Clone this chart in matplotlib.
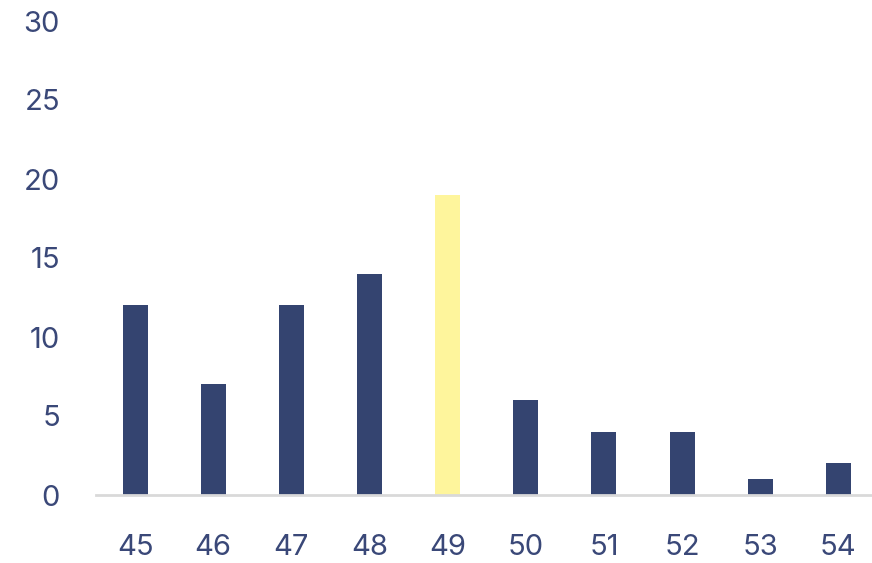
import matplotlib.pyplot as plt

sizes = ['45', '46', '47', '48', '49', '50', '51', '52', '53', '54']
counts = [12, 7, 12, 14, 19, 6, 4, 4, 1, 2]
highlight = '49'

navy = '#344470'
yellow = '#FEF59C'
text_color = '#3A4878'

plt.rcParams['font.family'] = ['Inter', 'DejaVu Sans']

fig = plt.figure(figsize=(8.72, 5.63), dpi=100)
ax = fig.add_axes([96 / 872, 68 / 563, 1 - 96 / 872, 474 / 563])

colors = [yellow if s == highlight else navy for s in sizes]
ax.bar(range(len(sizes)), counts, width=0.32, color=colors, zorder=2)

ax.set_xlim(-0.5, 9.43)
ax.set_ylim(0, 30)
ax.set_yticks(range(0, 31, 5))
ax.set_xticks(range(len(sizes)))
ax.set_xticklabels(sizes)

for side in ['top', 'right', 'left']:
    ax.spines[side].set_visible(False)
ax.spines['bottom'].set_color('#D9D9D9')
ax.spines['bottom'].set_linewidth(2)
ax.spines['bottom'].set_zorder(3)

ax.tick_params(axis='both', length=0, labelsize=21, labelcolor=text_color)
ax.tick_params(axis='x', pad=28)
ax.tick_params(axis='y', pad=26)

fig.savefig('out.png', dpi=100, facecolor='white')
